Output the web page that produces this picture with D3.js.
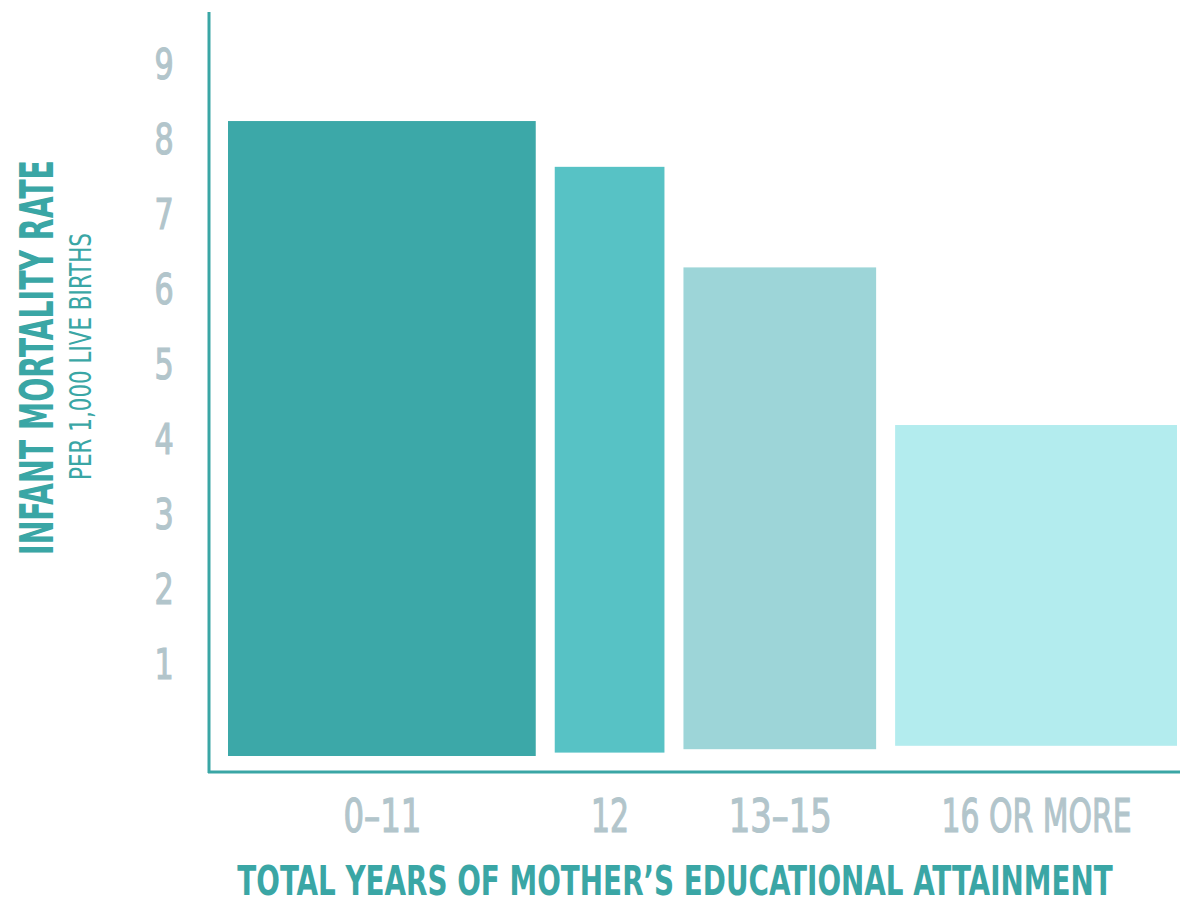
<!DOCTYPE html>
<html>
<head>
<meta charset="utf-8">
<script src="https://cdn.jsdelivr.net/npm/d3@7"></script>
<style>
  html, body { margin: 0; padding: 0; background: #fff; }
  svg { display: block; }
  text { font-family: "DejaVu Sans Condensed", "DejaVu Sans", sans-serif; font-stretch: condensed; }
</style>
</head>
<body>
<svg width="1180" height="904"></svg>
<script>
// data
const categories = ["0–11", "12", "13–15", "16 OR MORE"]
const mortality = [8.22, 7.61, 6.27, 4.17]      // deaths per 1,000 live births
const barShare = [34.5, 12.3, 21.6, 31.6]       // relative bar widths
const yTicks = [1, 2, 3, 4, 5, 6, 7, 8, 9]

const barColors = ["#3ca8a8", "#57c2c5", "#9dd5d8", "#b3ecee"]
const teal = "#3aa6a5"
const grey = "#b2c5cb"

const svg = d3.select("svg")

// squeeze a text horizontally so it is `width` px wide
function fit(sel, width) {
   sel.each(function(d) {
      const w = this.getComputedTextLength()
      const target = typeof width === "function" ? width(d) : width
      const prev = this.getAttribute("transform") || ""
      this.setAttribute("transform", `${prev} scale(${target / w},1)`)
   })
}

const gap = 19
const x = d3.scaleLinear()
   .domain([0, d3.sum(barShare)])
   .range([228, 1177 - gap * (barShare.length - 1)])

const y = d3.scaleLinear()
   .domain([0, 9])
   .range([738, 62.5])

let acc = 0
const bars = categories.map((c, i) => {
   const x0 = x(acc) + i * gap
   acc += barShare[i]
   const x1 = x(acc) + i * gap
   return {cat: c, value: mortality[i], x0, x1, color: barColors[i], bottom: y(0) + 18 - i * 3.4}
})

// bars
svg.append("g")
   .selectAll("rect")
   .data(bars)
   .join("rect")
   .attr("x", d => d.x0)
   .attr("y", d => y(d.value))
   .attr("width", d => d.x1 - d.x0)
   .attr("height", d => d.bottom - y(d.value))
   .attr("fill", d => d.color)

// axis lines
svg.append("line")
   .attr("x1", 209).attr("x2", 209)
   .attr("y1", 12).attr("y2", 773)
   .attr("stroke", teal).attr("stroke-width", 3)
svg.append("line")
   .attr("x1", 208).attr("x2", 1180)
   .attr("y1", 772).attr("y2", 772)
   .attr("stroke", teal).attr("stroke-width", 3)

// y tick labels
const yAxis = svg.append("g")
   .attr("transform", "translate(164,0)")
   .call(d3.axisLeft(y).tickValues(yTicks).tickSize(0).tickFormat(d3.format("d")))
yAxis.select(".domain").remove()
yAxis.selectAll("text")
   .attr("x", 0)
   .attr("dy", null)
   .attr("y", 15.5)
   .attr("text-anchor", "middle")
   .attr("transform", "scale(0.78,1)")
   .attr("fill", grey)
   .attr("stroke", grey)
   .attr("stroke-width", 1.2)
   .attr("font-size", 43)
   .attr("font-family", null)

// x category labels, centred under each bar
const xc = d3.scaleOrdinal()
   .domain(categories)
   .range(bars.map(d => (d.x0 + d.x1) / 2))
const labelWidth = {"0–11": 78, "12": 38, "13–15": 103, "16 OR MORE": 190}
const xAxis = svg.append("g")
   .attr("transform", "translate(0,832)")
   .call(d3.axisBottom(xc).tickSize(0))
xAxis.select(".domain").remove()
xAxis.selectAll("text")
   .attr("y", 0)
   .attr("dy", null)
   .attr("fill", grey)
   .attr("stroke", grey)
   .attr("stroke-width", 1.2)
   .attr("font-size", 46)
   .attr("font-family", null)
   .call(fit, d => labelWidth[d])

// titles
svg.append("text")
   .attr("transform", "translate(675,895)")
   .attr("text-anchor", "middle")
   .attr("font-size", 41)
   .attr("font-weight", "bold")
   .attr("fill", teal)
   .text("TOTAL YEARS OF MOTHER’S EDUCATIONAL ATTAINMENT")
   .call(fit, 876)

svg.append("text")
   .attr("transform", "translate(53,357.5) rotate(-90)")
   .attr("text-anchor", "middle")
   .attr("font-size", 47)
   .attr("font-weight", "bold")
   .attr("fill", teal)
   .text("INFANT MORTALITY RATE")
   .call(fit, 395)

svg.append("text")
   .attr("transform", "translate(91,356.5) rotate(-90)")
   .attr("text-anchor", "middle")
   .attr("font-size", 31)
   .attr("fill", teal)
   .text("PER 1,000 LIVE BIRTHS")
   .call(fit, 247)
</script>
</body>
</html>
